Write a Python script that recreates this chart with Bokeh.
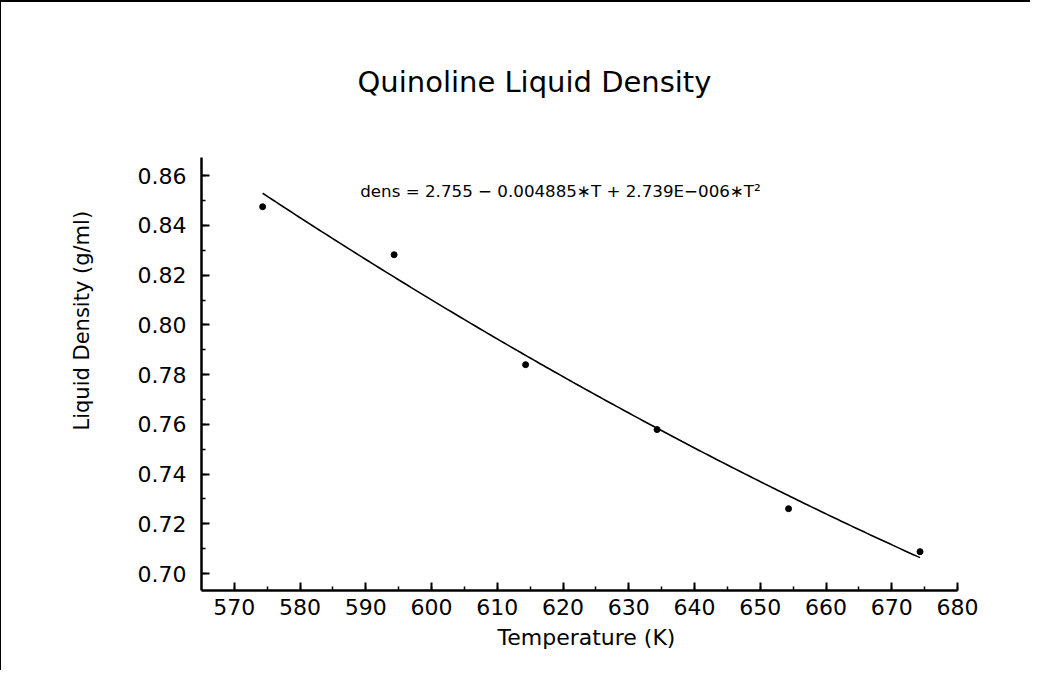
import numpy as np
from bokeh.plotting import figure
from bokeh.models import Range1d, FixedTicker, PrintfTickFormatter, Title, Label
from bokeh.embed import file_html
from bokeh.resources import INLINE

# ---- data ----
temperature = [574.3, 594.3, 614.3, 634.3, 654.3, 674.3]
density = [0.8475, 0.8282, 0.7840, 0.7579, 0.7261, 0.7088]
fit_coef = [2.755, -0.004885, 2.739e-6]          # dens = a + b*T + c*T^2
x_ticks = [570, 580, 590, 600, 610, 620, 630, 640, 650, 660, 670, 680]
y_ticks = [0.70, 0.72, 0.74, 0.76, 0.78, 0.80, 0.82, 0.84, 0.86]
title_text = "Quinoline Liquid Density"
x_label = "Temperature (K)"
y_label = "Liquid Density (g/ml)"
equation = "dens = 2.755 \u2212 0.004885\u2217T + 2.739E\u2212006\u2217T\u00b2"

FONT = "DejaVu Sans"

p = figure(width=1030, height=670, output_backend="svg", toolbar_location=None,
           x_range=Range1d(565, 680), y_range=Range1d(0.6932, 0.8673),
           min_border_left=200, min_border_right=74,
           min_border_top=155, min_border_bottom=82,
           title=title_text)
p.styles = {"border-left": "1px solid black", "border-top": "2px solid black"}

p.title.align = "left"
p.title.offset = 156
p.title.standoff = 118
p.title.text_font = FONT
p.title.text_font_size = "29px"
p.title.text_font_style = "normal"
p.title.text_color = "black"

p.outline_line_color = None
p.grid.visible = False
p.background_fill_color = "white"
p.border_fill_color = "white"

# axes
xa = p.xaxis[0]
xa.ticker = FixedTicker(ticks=x_ticks, minor_ticks=list(np.arange(570, 681, 5)))
ya = p.yaxis[0]
ya.ticker = FixedTicker(ticks=y_ticks, minor_ticks=[round(0.70 + 0.01 * i, 2) for i in range(17)])
ya.formatter = PrintfTickFormatter(format="%.2f")

for ax in (xa, ya):
    ax.axis_line_width = 2.5
    ax.axis_line_color = "black"
    ax.major_tick_in = 8
    ax.major_tick_out = 0
    ax.minor_tick_in = 4
    ax.minor_tick_out = 0
    ax.major_tick_line_width = 2
    ax.minor_tick_line_width = 1.5
    ax.major_tick_line_color = "black"
    ax.minor_tick_line_color = "black"
    ax.major_label_text_font = FONT
    ax.major_label_text_font_size = "22px"
    ax.major_label_text_color = "black"

xa.major_label_standoff = 8
ya.major_label_standoff = 15

# axis titles placed as side titles so they can be offset like the reference
p.add_layout(Title(text=x_label, align="left", offset=296, standoff=10,
                   text_font=FONT, text_font_size="22px",
                   text_font_style="normal", text_color="black"), "below")
p.add_layout(Title(text=y_label, align="left", offset=160, standoff=81,
                   text_font=FONT, text_font_size="21px",
                   text_font_style="normal", text_color="black"), "left")

# fitted curve from the equation shown on the chart
T = np.linspace(temperature[0], temperature[-1], 200)
fit = fit_coef[0] + fit_coef[1] * T + fit_coef[2] * T ** 2
p.line(T, fit, line_color="black", line_width=1.6)

# data points
p.scatter(temperature, density, size=6, color="black")

p.add_layout(Label(x=589.15, y=0.854, text=equation, text_font=FONT,
                   text_font_size="16.7px", text_color="black",
                   text_baseline="middle", text_align="left"))

open("out.html", "w").write(file_html(p, INLINE))
